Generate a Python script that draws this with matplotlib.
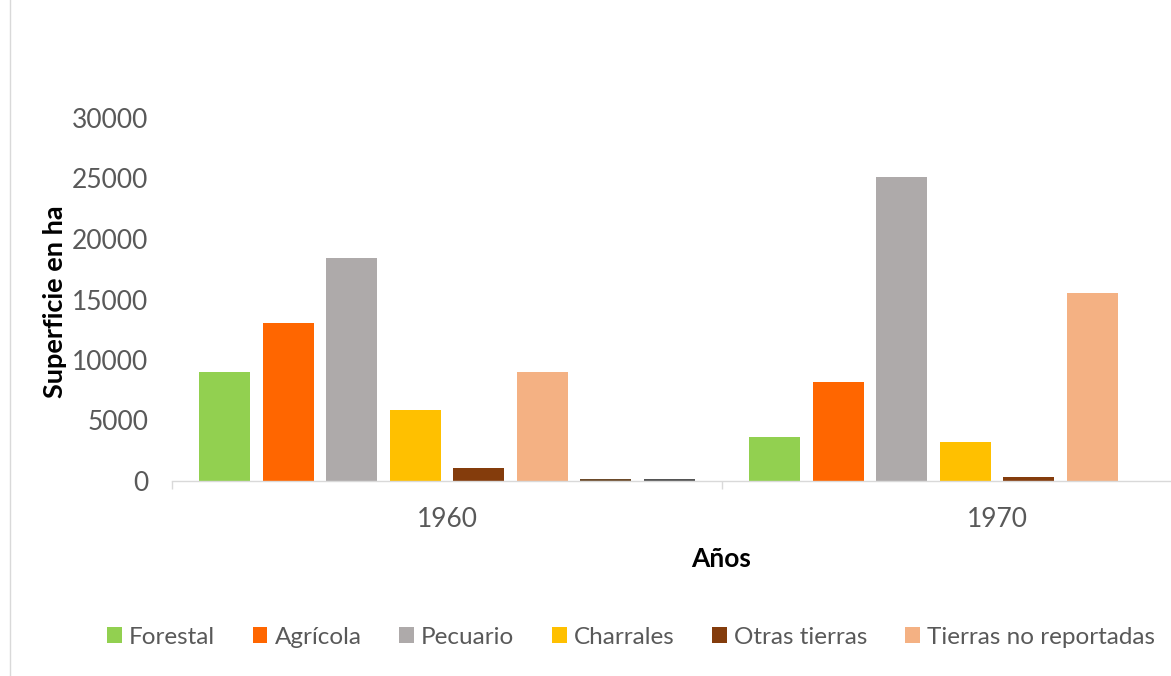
import matplotlib
matplotlib.use("Agg")
import matplotlib.pyplot as plt
from matplotlib.patches import Patch
from matplotlib.lines import Line2D
import numpy as np

plt.rcParams['font.family'] = ['Lato', 'DejaVu Sans']

years = ['1960', '1970']
series = ['Forestal', 'Agrícola', 'Pecuario', 'Charrales', 'Otras tierras',
          'Tierras no reportadas', 'Serie 7', 'Serie 8']
values = {
    'Forestal': [9000, 3650],
    'Agrícola': [13050, 8200],
    'Pecuario': [18400, 25100],
    'Charrales': [5850, 3250],
    'Otras tierras': [1050, 300],
    'Tierras no reportadas': [9000, 15500],
    'Serie 7': [150, 0],
    'Serie 8': [150, 0],
}
colors = ['#92D050', '#FF6600', '#AEAAAA', '#FFC000', '#843C0C', '#F4B183',
          '#6B4A2A', '#555555']
legend_series = series[:6]

W, H = 1171, 676
fig = plt.figure(figsize=(W / 100, H / 100), dpi=100)
ax = fig.add_axes([172 / W, 1 - 481 / H, 1100 / W, (481 - 118) / H])

x = np.arange(len(years))
slot = 63.5 / 550
bw = 51 / 550
n = len(series)
for i, s in enumerate(series):
    off = (i - (n - 1) / 2) * slot
    ax.bar(x + off, values[s], width=bw, color=colors[i], linewidth=0)

ax.set_xlim(-0.5, 1.5)
ax.set_ylim(0, 30000)
ax.set_yticks(range(0, 30001, 5000))
ax.set_xticks(x)
ax.set_xticklabels(years)
ax.set_xticks([-0.5, 0.5, 1.5], minor=True)

txtc = '#595959'
ax.tick_params(axis='y', length=0, pad=17, labelsize=19, labelcolor=txtc)
ax.tick_params(axis='x', which='major', length=0, pad=19, labelsize=19, labelcolor=txtc)
ax.tick_params(axis='x', which='minor', length=6, width=1, color='#D9D9D9')

for sp in ['top', 'right', 'left']:
    ax.spines[sp].set_visible(False)
ax.spines['bottom'].set_color('#D9D9D9')
ax.spines['bottom'].set_linewidth(1)

fig.text(55 / W, 1 - 302 / H, 'Superficie en ha', rotation=90, ha='center', va='center',
         fontsize=19.5, fontweight='bold', color='black')
fig.text(721 / W, 1 - 559 / H, 'Años', ha='center', va='center',
         fontsize=19, fontweight='bold', color='black')

handles = [Patch(facecolor=colors[i], edgecolor='none') for i in range(6)]
leg = fig.legend(handles, legend_series, loc='center', bbox_to_anchor=(631 / W, 1 - 637 / H),
                 ncol=6, frameon=False, fontsize=17.5, handlelength=0.6, handleheight=0.6,
                 handletextpad=0.3, columnspacing=1.55, labelcolor=txtc)

fig.add_artist(Line2D([10 / W, 10 / W], [0, 1], color='#D9D9D9', lw=1))

fig.savefig('out.png', dpi=100)
